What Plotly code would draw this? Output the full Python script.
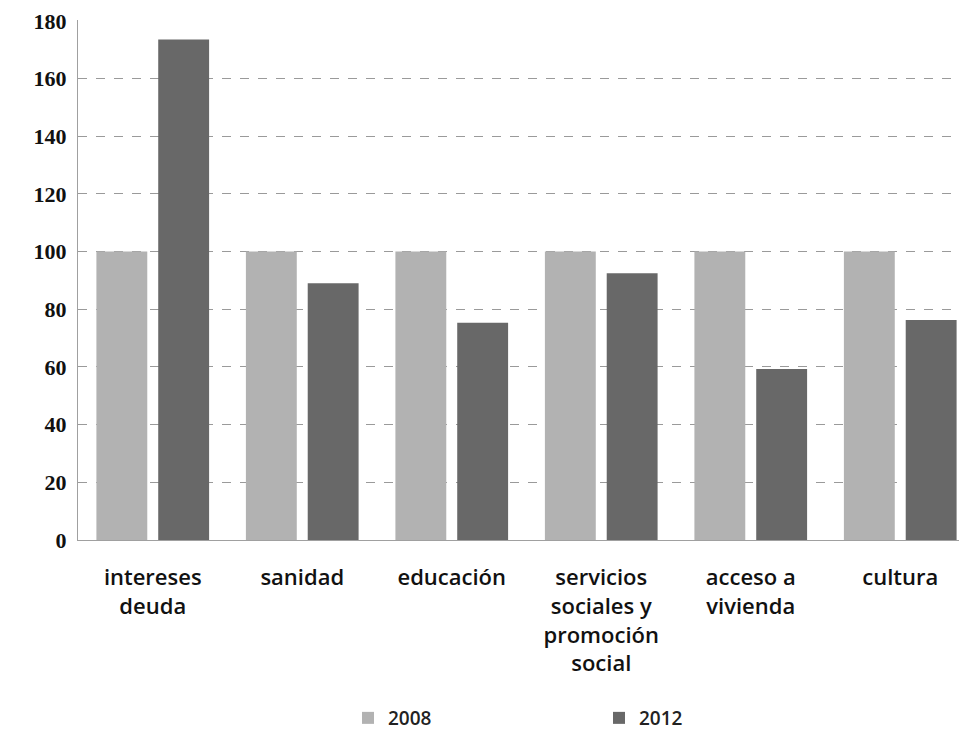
import plotly.graph_objects as go

categories = ["intereses<br>deuda", "sanidad", "educación",
              "servicios<br>sociales y<br>promoción<br>social",
              "acceso a<br>vivienda", "cultura"]
values_2008 = [100, 100, 100, 100, 100, 100]
values_2012 = [173.5, 89, 75.3, 92.5, 59.3, 76.3]
y_ticks = [0, 20, 40, 60, 80, 100, 120, 140, 160, 180]

fig = go.Figure()
fig.add_trace(go.Bar(x=categories, y=values_2008, name="2008",
                     marker=dict(color="#b2b2b2", line=dict(width=0))))
fig.add_trace(go.Bar(x=categories, y=values_2012, name="2012",
                     marker=dict(color="#686868", line=dict(width=0))))

fig.update_layout(
    width=967, height=731,
    margin=dict(l=70, r=0, t=12, b=199),
    paper_bgcolor="white", plot_bgcolor="white",
    barmode="group", bargap=0.173, bargroupgap=0.177,
    showlegend=True,
    legend=dict(orientation="h", x=0.301, xanchor="left",
                yref="container", y=0.0287, yanchor="middle",
                font=dict(family="Open Sans", size=19, color="#222", weight=600),
                itemwidth=30, entrywidth=206, traceorder="normal"),
    xaxis=dict(range=[-0.5, 5.5], showline=True, linecolor="#a0a0a0", linewidth=1,
               ticks="", tickfont=dict(family="Open Sans", size=22, color="#111", weight=600),
               showgrid=False, tickangle=0, ticklabelstandoff=18, automargin=False),
    yaxis=dict(range=[0, 180.3], tickvals=y_ticks, showline=True, linecolor="#a0a0a0",
               linewidth=1, showgrid=True, gridcolor="#9a9a9a", griddash="dash",
               gridwidth=1, ticks="", zeroline=False, automargin=False,
               tickfont=dict(family="Liberation Serif", size=22, color="#111", weight="bold"),
               ticklabelstandoff=6),
)
fig.write_html("out.html")
